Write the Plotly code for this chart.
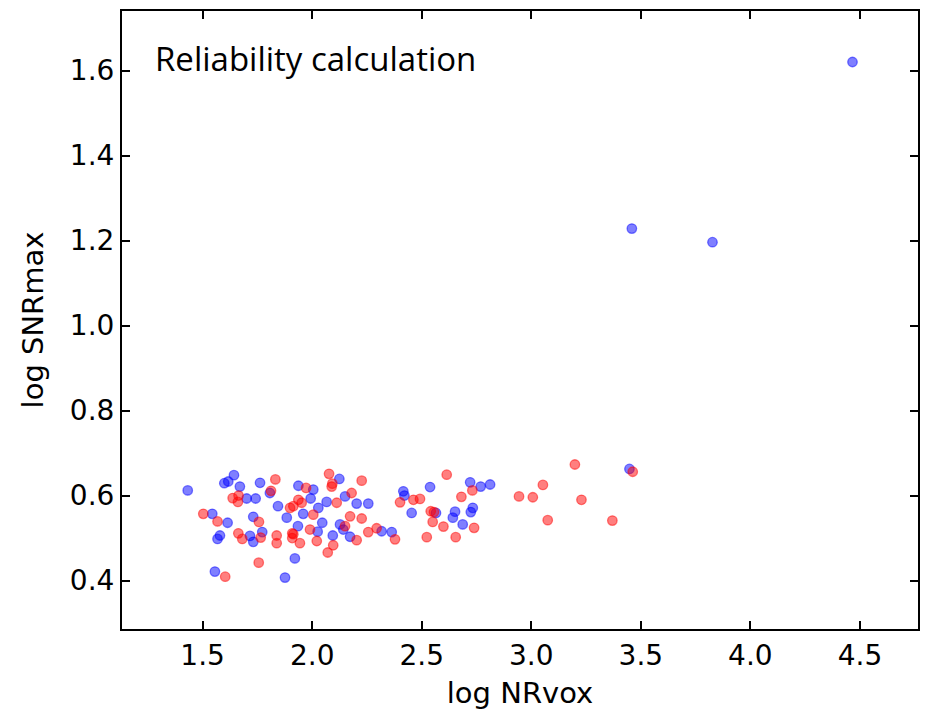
import plotly.graph_objects as go

blue_x = [1.432, 1.643, 1.599, 1.617, 1.670, 1.762, 1.937, 1.807, 1.701, 1.742, 1.844, 1.884,
          1.544, 1.614, 1.731, 1.772, 1.579, 1.568, 1.716, 1.731, 1.921, 1.556, 1.876,
          2.124, 2.005, 1.993, 2.066, 2.150, 2.203, 2.256, 1.959, 2.028, 2.127, 1.935, 2.046,
          2.025, 2.142, 2.094, 2.317, 2.363, 2.173, 2.416, 2.421, 2.454,
          2.538, 2.721, 2.769, 2.812, 2.565, 2.652, 2.733, 2.724, 2.642, 2.687,
          3.448, 3.459, 3.827, 4.466]
blue_y = [0.612, 0.648, 0.629, 0.633, 0.621, 0.630, 0.623, 0.606, 0.593, 0.593, 0.575, 0.548,
          0.557, 0.536, 0.550, 0.514, 0.506, 0.498, 0.505, 0.491, 0.452, 0.421, 0.407,
          0.639, 0.614, 0.593, 0.585, 0.598, 0.581, 0.581, 0.557, 0.571, 0.532, 0.528, 0.536,
          0.515, 0.520, 0.506, 0.516, 0.514, 0.503, 0.610, 0.600, 0.559,
          0.620, 0.631, 0.621, 0.626, 0.559, 0.562, 0.571, 0.561, 0.548, 0.532,
          0.6625, 1.228, 1.196, 1.620]

red_x = [1.832, 1.812, 1.637, 1.664, 1.661, 1.899, 1.503, 1.568, 1.757, 1.663, 1.681, 1.765,
         1.838, 1.838, 1.909, 1.909, 1.756, 1.603,
         2.077, 2.226, 2.089, 2.092, 1.972, 1.937, 1.952, 2.112, 2.180, 1.914, 2.005, 2.173,
         2.226, 1.990, 1.914, 2.150, 2.256, 2.294, 2.378, 2.203, 2.021, 2.096, 1.944, 2.071,
         2.401, 2.462,
         2.614, 2.731, 2.681, 2.944, 3.007, 2.492, 2.541, 2.556, 2.550, 2.599, 2.739, 3.075,
         2.523, 2.655, 3.053, 3.199, 3.229,
         3.463, 3.370]
red_y = [0.638, 0.611, 0.594, 0.600, 0.585, 0.571, 0.557, 0.539, 0.538, 0.511, 0.498, 0.501,
         0.506, 0.488, 0.511, 0.500, 0.442, 0.409,
         0.651, 0.635, 0.621, 0.628, 0.618, 0.590, 0.583, 0.583, 0.606, 0.575, 0.555, 0.551,
         0.546, 0.520, 0.509, 0.528, 0.514, 0.523, 0.497, 0.495, 0.493, 0.483, 0.488, 0.466,
         0.584, 0.590,
         0.649, 0.612, 0.597, 0.598, 0.596, 0.592, 0.563, 0.561, 0.538, 0.527, 0.524, 0.542,
         0.502, 0.502, 0.625, 0.673, 0.590,
         0.656, 0.541]

x_ticks = [1.5, 2.0, 2.5, 3.0, 3.5, 4.0, 4.5]
y_ticks = [0.4, 0.6, 0.8, 1.0, 1.2, 1.4, 1.6]

fig = go.Figure()
fig.add_trace(go.Scatter(
    x=blue_x, y=blue_y, mode="markers",
    marker=dict(size=9.5, color="rgba(0,0,255,0.5)",
                line=dict(width=1.3, color="rgba(0,0,255,0.5)")),
    showlegend=False))
fig.add_trace(go.Scatter(
    x=red_x, y=red_y, mode="markers",
    marker=dict(size=9.5, color="rgba(255,0,0,0.5)",
                line=dict(width=1.3, color="rgba(255,0,0,0.5)")),
    showlegend=False))

axis_common = dict(
    showline=True, linecolor="black", linewidth=2, mirror="ticks",
    ticks="inside", ticklen=8, tickwidth=1.5, tickcolor="black",
    showgrid=False, zeroline=False,
    tickfont=dict(family="DejaVu Sans", size=28, color="black"),
)

fig.update_layout(
    width=930, height=713,
    margin=dict(l=122, r=12, t=9, b=81),
    paper_bgcolor="white", plot_bgcolor="white",
    xaxis=dict(range=[1.132, 4.765], tickvals=x_ticks,
               ticktext=[f"{v:.1f}" for v in x_ticks],
               title=dict(text="log NRvox", font=dict(family="DejaVu Sans", size=29, color="black"),
                          standoff=12),
               **axis_common),
    yaxis=dict(range=[0.286, 1.74], tickvals=y_ticks,
               ticktext=[f"{v:.1f}" for v in y_ticks],
               title=dict(text="log SNRmax", font=dict(family="DejaVu Sans", size=29, color="black"),
                          standoff=18),
               **axis_common),
    annotations=[dict(text="Reliability calculation", xref="paper", yref="paper",
                      x=(153 - 122) / 796, y=1 - (57 - 9) / 623, xanchor="left", yanchor="middle",
                      showarrow=False, font=dict(family="Open Sans", size=33, color="black"))],
)

fig.write_html("out.html")
